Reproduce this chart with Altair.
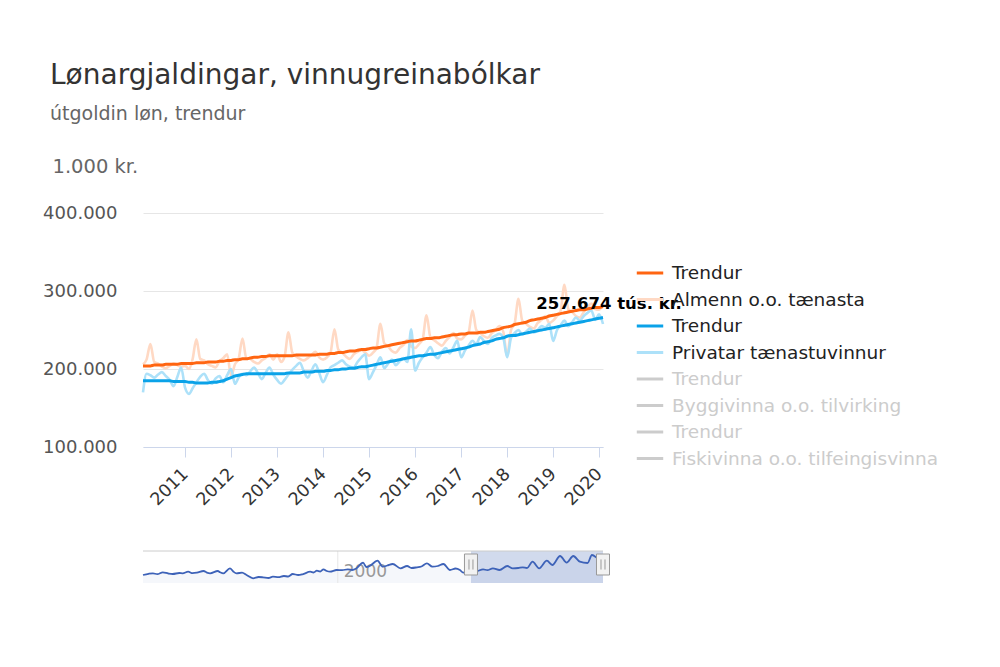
import altair as alt
import pandas as pd

FONT = "DejaVu Sans"

# ---------------- data: 1.000 kr., monthly Feb 2010 – Feb 2020 ----------------
almenn_trend = [
    204000, 204000, 204000, 205000, 205000, 205000, 206000, 206000, 206000, 206000, 207000,
    207000, 207000, 207000, 208000, 208000, 208000, 209000, 209000, 209000, 210000, 210000, 211000,
    211000, 212000, 212000, 213000, 213000, 214000, 215000, 215000, 216000, 216000, 217000, 217000,
    217000, 217000, 217000, 217000, 217000, 218000, 218000, 218000, 218000, 218000, 218000, 219000,
    219000, 219000, 220000, 220000, 221000, 221000, 222000, 223000, 223000, 224000, 225000, 225000,
    226000, 227000, 227000, 228000, 229000, 230000, 231000, 232000, 233000, 234000, 235000, 236000,
    236000, 237000, 238000, 239000, 239000, 240000, 240000, 241000, 242000, 243000, 244000, 244000,
    245000, 245000, 246000, 246000, 246000, 247000, 247000, 248000, 249000, 250000, 251000, 253000,
    254000, 255000, 257000, 258000, 259000, 260000, 262000, 263000, 264000, 265000, 266000, 268000,
    269000, 270000, 271000, 272000, 273000, 274000, 275000, 276000, 276000, 277000, 278000, 279000,
    279000, 280000,
]
almenn = [
    206000, 212000, 232000, 209000, 207000, 203000, 201000, 204000, 207000, 205000, 203000,
    204000, 200000, 212000, 238000, 213000, 211000, 206000, 204000, 202000, 210000, 214000, 219000,
    191000, 206000, 213000, 239000, 214000, 213000, 209000, 207000, 211000, 214000, 219000, 212000,
    219000, 209000, 216000, 247000, 221000, 216000, 213000, 211000, 214000, 218000, 222000, 215000,
    212000, 215000, 221000, 251000, 225000, 221000, 216000, 213000, 219000, 222000, 224000, 221000,
    217000, 221000, 227000, 258000, 233000, 229000, 223000, 221000, 227000, 231000, 237000, 229000,
    227000, 232000, 238000, 269000, 241000, 237000, 233000, 230000, 236000, 241000, 246000, 239000,
    238000, 243000, 247000, 275000, 250000, 246000, 242000, 240000, 246000, 250000, 255000, 248000,
    217000, 250000, 258000, 290000, 262000, 258000, 254000, 252000, 259000, 263000, 268000, 259000,
    262000, 268000, 274000, 308000, 277000, 273000, 268000, 266000, 273000, 279000, 284000, 277000,
    276000, 283000,
]
privat_trend = [
    185000, 185000, 185000, 185000, 185000, 185000, 185000, 185000, 184000, 184000, 184000,
    184000, 183000, 183000, 182000, 182000, 182000, 182000, 183000, 183000, 184000, 185000, 187000,
    189000, 191000, 192000, 193000, 194000, 194000, 194000, 194000, 194000, 194000, 194000, 194000,
    194000, 194000, 194000, 195000, 195000, 195000, 195000, 196000, 196000, 196000, 197000, 197000,
    197000, 198000, 198000, 199000, 199000, 200000, 200000, 201000, 201000, 202000, 203000, 203000,
    204000, 205000, 206000, 207000, 208000, 209000, 210000, 211000, 212000, 213000, 214000, 215000,
    216000, 217000, 217000, 218000, 219000, 219000, 220000, 221000, 222000, 223000, 224000, 225000,
    226000, 227000, 228000, 230000, 231000, 232000, 234000, 235000, 236000, 238000, 239000, 240000,
    242000, 243000, 243000, 244000, 245000, 246000, 247000, 248000, 249000, 250000, 251000, 252000,
    253000, 254000, 255000, 256000, 257000, 258000, 259000, 260000, 261000, 262000, 263000, 264000,
    265000, 266000,
]
privat = [
    170000, 194000, 192000, 189000, 193000, 196000, 191000, 186000, 178000, 190000, 202000,
    176000, 168000, 175000, 183000, 190000, 194000, 186000, 181000, 188000, 191000, 183000, 192000,
    200000, 181000, 189000, 194000, 192000, 197000, 202000, 195000, 187000, 195000, 202000, 193000,
    186000, 181000, 186000, 193000, 199000, 204000, 208000, 197000, 189000, 198000, 206000, 195000,
    183000, 193000, 202000, 205000, 208000, 211000, 206000, 203000, 202000, 209000, 215000, 219000,
    187000, 196000, 205000, 215000, 201000, 207000, 212000, 205000, 210000, 214000, 209000, 251000,
    198000, 208000, 215000, 221000, 228000, 218000, 214000, 222000, 227000, 220000, 228000, 236000,
    215000, 224000, 230000, 236000, 232000, 241000, 236000, 232000, 240000, 243000, 245000, 240000,
    215000, 240000, 246000, 250000, 244000, 248000, 252000, 247000, 250000, 255000, 253000, 258000,
    236000, 250000, 256000, 262000, 255000, 260000, 266000, 262000, 268000, 272000, 275000, 263000,
    270000, 257674,
]

# navigator overview series (index)
nav_dates = [
    "1985-04", "1985-09", "1986-01", "1986-05", "1986-10", "1987-03", "1987-07", "1988-01",
    "1988-04", "1988-09", "1989-01", "1989-05", "1989-11", "1990-02", "1990-05", "1990-12",
    "1991-02", "1991-05", "1991-11", "1992-02", "1992-05", "1992-10", "1993-02", "1993-08",
    "1994-01", "1994-05", "1994-10", "1995-02", "1995-07", "1995-12", "1996-04", "1996-08",
    "1997-01", "1997-05", "1997-12", "1998-03", "1998-06", "1998-09", "1998-12", "1999-03",
    "1999-06", "1999-12", "2000-05", "2000-10", "2001-02", "2001-06", "2001-12", "2002-03",
    "2002-06", "2003-01", "2003-06", "2003-10", "2004-03", "2004-10", "2005-04", "2005-08",
    "2006-01", "2006-05", "2006-10", "2007-03", "2007-08", "2008-01", "2008-07", "2008-12",
    "2009-04", "2009-07", "2010-01", "2010-07", "2011-01", "2011-05", "2011-10", "2012-04",
    "2012-11", "2013-04", "2013-09", "2014-01", "2014-05", "2014-10", "2015-04", "2015-11",
    "2016-04", "2016-11", "2017-05", "2017-11", "2018-05", "2018-12", "2019-04", "2019-11",
    "2020-02",
]
nav_values = [
    80, 92, 97, 88, 107, 95, 90, 100,
    97, 113, 98, 103, 120, 104, 97, 120,
    108, 97, 147, 115, 97, 103, 80, 47,
    60, 57, 50, 63, 58, 70, 65, 90,
    80, 87, 113, 105, 123, 115, 137, 120,
    113, 130, 128, 137, 130, 147, 203, 160,
    170, 223, 163, 175, 190, 147, 170, 150,
    157, 165, 197, 163, 170, 190, 130, 145,
    130, 103, 120, 118, 137, 128, 147, 130,
    170, 147, 150, 157, 150, 213, 147, 223,
    180, 270, 203, 270, 213, 200, 280, 237,
    250,
]

series_keys = [
    "Trendur | Almenn o.o. tænasta",
    "Almenn o.o. tænasta",
    "Trendur | Privatar tænastuvinnur",
    "Privatar tænastuvinnur",
    "Trendur | Byggivinna o.o. tilvirking",
    "Byggivinna o.o. tilvirking",
    "Trendur | Fiskivinna o.o. tilfeingisvinna",
    "Fiskivinna o.o. tilfeingisvinna",
]
series_colors = ["#ff6511", "#ffd9c4", "#0aa2e8", "#ade1f9",
                 "#cccccc", "#cccccc", "#cccccc", "#cccccc"]

label_text = "257.674 tús. kr."

# ---------------- tables ----------------
months = [d.strftime("%Y-%m-%d") for d in pd.date_range("2010-02-01", "2020-02-01", freq="MS")]

def long(key, vals):
    return pd.DataFrame({"date": months, "value": vals, "key": key})

raw_df = pd.concat([long(series_keys[1], almenn), long(series_keys[3], privat)])
trend_df = pd.concat([long(series_keys[0], almenn_trend), long(series_keys[2], privat_trend)])
label_df = pd.DataFrame({"date": [months[-1]], "value": [privat[-1]], "text": [label_text]})

nav_df = pd.DataFrame({"date": [d + "-01" for d in nav_dates], "v": nav_values})
NAV_START, NAV_END = nav_df["date"].iloc[0], nav_df["date"].iloc[-1]
SEL_START, SEL_END = months[0], months[-1]
mask_df = pd.DataFrame({"s": [SEL_START], "e": [SEL_END], "lo": [0], "hi": [320]})
outline_df = pd.DataFrame({"s": [NAV_START], "e": [NAV_END], "hi": [320]})
grid_df = pd.DataFrame({"d": ["2000-01-01"], "lo": [0], "hi": [320], "ty": [113], "t": ["2000"]})
handle_df = pd.DataFrame({"date": [SEL_START, SEL_END], "v": [185, 185]})

# ---------------- main chart ----------------
x_dom = [alt.DateTime(year=2010, month=2, date=1, utc=True),
         alt.DateTime(year=2020, month=2, date=1, utc=True)]
x_main = alt.X(
    "date:T",
    scale=alt.Scale(type="utc", domain=x_dom),
    axis=alt.Axis(
        values=[alt.DateTime(year=y, month=1, date=1, utc=True) for y in range(2011, 2021)],
        format="%Y", labelAngle=-45, labelAlign="right", labelBaseline="middle",
        labelFontSize=17.5, labelColor="#333333", labelFont=FONT, labelPadding=14,
        labelFlush=False, labelOverlap=False,
        tickSize=10, tickColor="#ccd6eb", domainColor="#ccd6eb", grid=False, title=None,
    ),
)
y_main = alt.Y(
    "value:Q",
    scale=alt.Scale(domain=[100000, 400000], nice=False, zero=False),
    axis=alt.Axis(
        values=[100000, 200000, 300000, 400000],
        labelExpr="replace(format(datum.value, ','), ',', '.')",
        labelFontSize=18, labelColor="#555555", labelFont=FONT, labelPadding=26,
        grid=True, gridColor="#e6e6e6", domain=False, ticks=False, tickSize=0,
        title="1.000 kr.", titleAngle=0, titleAlign="left", titleBaseline="alphabetic",
        titleX=-91, titleY=-41, titleFontSize=19.5, titleColor="#666666",
        titleFontWeight="normal", titleFont=FONT,
    ),
)
color = alt.Color(
    "key:N",
    scale=alt.Scale(domain=series_keys, range=series_colors),
    legend=alt.Legend(
        title=None, orient="none", legendX=494, legendY=47, padding=0,
        symbolType="M-1.15,0H1.15", symbolSize=529, symbolStrokeWidth=3,
        labelFont=FONT, labelFontSize=18.5, labelLimit=400, labelOffset=9,
        rowPadding=3.5,
        labelExpr="split(datum.label, ' | ')[0]",
        labelColor={"expr": "indexof(datum.value, 'Bygg') >= 0 || indexof(datum.value, 'Fisk') >= 0 ? '#cccccc' : '#222222'"},
    ),
)

raw = alt.Chart(raw_df).mark_line(strokeWidth=2.6, interpolate="monotone").encode(
    x=x_main, y=y_main, color=color)
trend = alt.Chart(trend_df).mark_line(strokeWidth=3, interpolate="monotone").encode(
    x=x_main, y=y_main, color=color)
label = alt.Chart(label_df).mark_text(
    font=FONT, fontSize=16.5, fontWeight="bold", color="#000000", dy=-20, dx=6
).encode(x=x_main, y=y_main, text="text:N")
main = alt.layer(raw, trend, label)

# ---------------- navigator ----------------
nav_xdom = [alt.DateTime(year=1985, month=4, date=1, utc=True),
            alt.DateTime(year=2020, month=2, date=1, utc=True)]
nscale_x = alt.Scale(type="utc", domain=nav_xdom)
nscale_y = alt.Scale(domain=[0, 320], range=[370, 338], zero=False, nice=False)

def nx(f):
    return alt.X(f, scale=nscale_x, axis=None)

def ny(f):
    return alt.Y(f, scale=nscale_y, axis=None)

nav_area = alt.Chart(nav_df).mark_area(color="#335cad", opacity=0.05, interpolate="monotone").encode(
    x=nx("date:T"), y=ny("v:Q"))
nav_grid = alt.Chart(grid_df).mark_rule(color="#e6e6e6", strokeWidth=1).encode(
    x=nx("d:T"), y=ny("lo:Q"), y2="hi:Q")
nav_text = alt.Chart(grid_df).mark_text(
    font=FONT, fontSize=17, color="#999999", align="left", baseline="middle", dx=6
).encode(x=nx("d:T"), y=ny("ty:Q"), text="t:N")
nav_mask = alt.Chart(mask_df).mark_rect(color="#6685c2", opacity=0.3).encode(
    x=nx("s:T"), x2="e:T", y=ny("lo:Q"), y2="hi:Q")
nav_line = alt.Chart(nav_df).mark_line(color="#3d62b8", strokeWidth=1.8, interpolate="monotone").encode(
    x=nx("date:T"), y=ny("v:Q"))
nav_outline = alt.Chart(outline_df).mark_rule(color="#cccccc", strokeWidth=1).encode(
    x=nx("s:T"), x2="e:T", y=ny("hi:Q"))
nav_handle = alt.Chart(handle_df).mark_point(
    shape="M-0.62,-1H0.62V1H-0.62Z", size=441, filled=True, fill="#f2f2f2",
    stroke="#999999", strokeWidth=1, opacity=1
).encode(x=nx("date:T"), y=ny("v:Q"))
nav_grip = alt.Chart(handle_df).mark_point(
    shape="M-0.19,-0.48V0.48M0.19,-0.48V0.48", size=441, filled=False,
    stroke="#999999", strokeWidth=1, opacity=1
).encode(x=nx("date:T"), y=ny("v:Q"))
nav = alt.layer(nav_area, nav_grid, nav_text, nav_mask, nav_line, nav_outline,
                nav_handle, nav_grip)

chart = alt.layer(main, nav).resolve_scale(
    x="independent", y="independent"
).properties(
    width=460, height=234,
    autosize=alt.AutoSizeParams(type="none"),
    padding={"left": 135, "top": 205, "right": 380, "bottom": 200},
    title=alt.TitleParams(
        text="Lønargjaldingar, vinnugreinabólkar",
        subtitle="útgoldin løn, trendur",
        anchor="start", frame="group", dx=-93, offset=32,
        font=FONT, fontSize=28, fontWeight="normal", color="#333333",
        subtitleFont=FONT, subtitleFontSize=19, subtitleColor="#666666",
        subtitlePadding=15,
    ),
).configure(font=FONT, background="white").configure_view(strokeWidth=0, stroke=None)

chart.save("out.html", embed_options={"renderer": "svg", "actions": False})
